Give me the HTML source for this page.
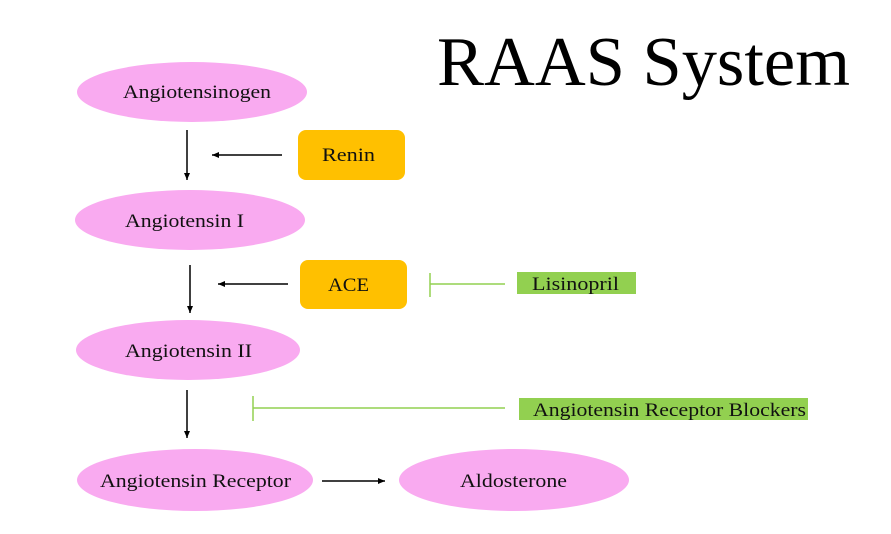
<!DOCTYPE html>
<html><head><style>
body{margin:0;background:#fff}
svg{display:block}
text{font-family:"Liberation Serif",serif;fill:#111}
</style></head><body>
<svg width="891" height="534" viewBox="0 0 891 534">
<defs><marker id="a" markerWidth="8" markerHeight="8" refX="7" refY="4" orient="auto" markerUnits="userSpaceOnUse"><path d="M0,1 L7,4 L0,7 z" fill="#000"/></marker></defs>
<text x="437" y="85" font-size="70" textLength="413" lengthAdjust="spacingAndGlyphs" style="fill:#000">RAAS System</text>
<g fill="#f9aaf0">
<ellipse cx="192" cy="92" rx="115" ry="30"/>
<ellipse cx="190" cy="220" rx="115" ry="30"/>
<ellipse cx="188" cy="350" rx="112" ry="30"/>
<ellipse cx="195" cy="480" rx="118" ry="31"/>
<ellipse cx="514" cy="480" rx="115" ry="31"/>
</g>
<rect x="298" y="130" width="107" height="50" rx="8" fill="#ffc000"/>
<rect x="300" y="260" width="107" height="49" rx="8" fill="#ffc000"/>
<rect x="517" y="272" width="119" height="22" fill="#92d050"/>
<rect x="519" y="398" width="289" height="22" fill="#92d050"/>
<g stroke="#000" stroke-width="1.5" marker-end="url(#a)">
<line x1="187" y1="130" x2="187" y2="180"/>
<line x1="282" y1="155" x2="212" y2="155"/>
<line x1="190" y1="265" x2="190" y2="313"/>
<line x1="288" y1="284" x2="218" y2="284"/>
<line x1="187" y1="390" x2="187" y2="438"/>
<line x1="322" y1="481" x2="385" y2="481"/>
</g>
<g stroke="#92d050" stroke-width="1.5">
<line x1="505" y1="284" x2="430" y2="284"/><line x1="430" y1="273" x2="430" y2="297"/>
<line x1="505" y1="408" x2="253" y2="408"/><line x1="253" y1="396" x2="253" y2="421"/>
</g>
<g font-size="19" lengthAdjust="spacingAndGlyphs">
<text x="123" y="98" textLength="148" lengthAdjust="spacingAndGlyphs">Angiotensinogen</text>
<text x="125" y="227" textLength="119" lengthAdjust="spacingAndGlyphs">Angiotensin I</text>
<text x="125" y="357" textLength="127" lengthAdjust="spacingAndGlyphs">Angiotensin II</text>
<text x="100" y="487" textLength="191" lengthAdjust="spacingAndGlyphs">Angiotensin Receptor</text>
<text x="460" y="487" textLength="107" lengthAdjust="spacingAndGlyphs">Aldosterone</text>
<text x="322" y="161" textLength="53" lengthAdjust="spacingAndGlyphs">Renin</text>
<text x="328" y="291" textLength="41" lengthAdjust="spacingAndGlyphs">ACE</text>
<text x="532" y="290" textLength="87" lengthAdjust="spacingAndGlyphs">Lisinopril</text>
<text x="533" y="416" textLength="273" lengthAdjust="spacingAndGlyphs">Angiotensin Receptor Blockers</text>
</g>
</svg>
</body></html>
